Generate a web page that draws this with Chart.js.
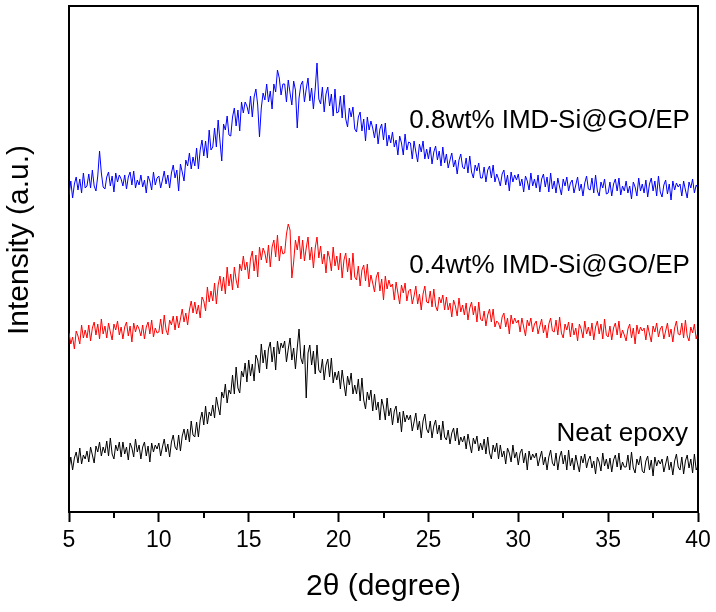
<!DOCTYPE html>
<html>
<head>
<meta charset="utf-8">
<script src="https://cdn.jsdelivr.net/npm/chart.js@4.4.0/dist/chart.umd.min.js"></script>
<style>
    html, body { margin: 0; padding: 0; background: #fff; }
    #wrap { width: 716px; height: 612px; }
</style>
</head>
<body>
<div id="wrap"><canvas id="xrdChart" width="716" height="612"></canvas></div>
<script>
// 2θ scan: 5° .. 40°, step 0.1°
const thetaStart = 5;
const thetaStep = 0.1;

const seriesNames = ['Neat epoxy', '0.4wt% IMD-Si@GO/EP', '0.8wt% IMD-Si@GO/EP'];

// Intensity (a.u.), curves stacked with offsets as in the figure
const neatEpoxy = [
    43,55,42,54,60,49,64,48,57,53, 61,50,65,57,49,66,60,70,56,65,
    59,71,56,74,58,53,67,61,70,55, 70,58,65,52,69,64,55,73,60,67,
    53,65,70,56,66,50,69,60,67,63, 69,56,65,73,60,68,55,70,77,65,
    62,77,61,76,83,72,83,70,91,77, 75,90,75,92,100,87,106,88,100,96,
    107,94,115,105,97,120,114,128,109,122, 118,137,118,145,124,119,141,135,149,130,
    152,136,148,131,157,152,139,168,149,162, 143,163,170,150,165,142,171,158,169,164,
    171,150,163,174,152,164,143,164,183,154, 148,167,114,159,167,147,161,138,167,142,
    139,153,132,147,153,135,154,129,140,132, 141,123,142,128,116,136,127,139,118,127,
    118,133,111,134,112,103,120,112,122,101, 118,102,110,92,113,105,92,114,96,104,
    87,101,106,89,100,80,101,90,97,92, 97,81,90,99,82,91,74,91,98,83,
    79,91,74,86,92,78,87,72,91,75, 72,82,68,79,84,71,84,67,75,70,
    76,63,78,68,59,74,68,76,61,69, 62,73,58,75,59,53,67,60,69,53,
    67,55,61,48,64,59,50,67,54,60, 47,59,63,49,59,42,61,52,58,54,
    59,46,54,61,47,55,42,55,62,49, 46,59,42,55,61,48,57,42,62,46,
    54,42,57,48,40,56,49,58,44,52, 56,44,51,38,55,50,41,59,46,53,
    43,54,40,52,57,45,59,42,50,45, 45,57,42,60,44,39,53,47,56,41,
    39,51,56,42,52,36,55,46,52,48, 53,40,48,56,42,50,37,51,58,45,
    42,55,38,51,57,44,53,39,58,42, 46
];

const go04 = [
    179,168,175,163,181,176,168,187,174,182, 174,187,171,184,190,177,188,173,193,178,
    186,174,189,180,172,188,182,191,177,185, 173,185,190,176,186,170,189,180,187,183,
    176,187,173,185,190,178,192,175,184,179, 180,193,178,197,182,177,192,187,196,182,
    196,184,193,203,190,199,187,202,211,199, 210,198,207,194,215,211,201,225,210,221,
    211,229,208,227,236,221,235,218,245,226, 238,222,245,232,224,248,241,256,242,250,
    233,253,261,241,257,235,265,252,264,259, 249,267,245,265,272,255,277,251,266,258,
    259,278,288,282,234,250,272,262,276,253, 272,251,264,275,252,265,244,264,275,254,
    266,248,258,239,261,254,241,265,246,256, 242,259,234,252,259,240,254,232,259,235,
    232,246,226,242,247,231,248,225,237,229, 220,235,240,221,233,212,236,223,232,225,
    228,212,230,219,208,227,219,229,211,221, 223,208,216,226,208,218,202,218,226,210,
    209,221,205,223,206,201,215,209,217,202, 215,202,209,195,212,206,196,214,200,207,
    197,209,192,204,210,197,206,190,210,193, 191,201,186,197,203,190,203,185,191,189,
    183,195,199,185,194,178,197,188,194,189, 192,180,194,185,176,192,186,194,180,188,
    191,178,186,193,179,187,174,188,194,181, 180,192,177,195,179,174,188,182,190,175,
    189,177,184,171,188,183,174,191,178,185, 176,189,172,185,191,178,188,173,193,177,
    175,186,172,184,189,177,191,174,182,177, 171,183,188,174,184,168,187,178,185,181,
    184,172,187,178,170,186,180,189,175,183, 186,173,181,189,175,183,170,184,191,178,
    177,189,174,192,176,171,185,179,188,173, 180
];

const go08 = [
    317,331,314,328,335,322,333,319,339,324, 326,338,324,342,326,321,336,361,339,325,
    323,335,340,326,336,320,339,330,337,333, 326,337,323,335,340,327,341,324,332,327,
    337,325,332,319,336,331,322,340,327,334, 336,324,332,341,328,337,324,339,347,334,
    342,321,348,340,331,352,346,359,343,355, 346,364,343,362,372,356,371,354,382,362,
    365,384,365,392,371,351,388,382,396,377, 376,395,404,386,402,381,410,399,410,406,
    398,416,395,415,423,407,375,404,419,412, 428,410,421,403,428,420,442,434,417,428,
    428,410,432,419,407,431,422,384,414,427, 431,410,423,434,411,424,403,423,449,413,
    408,425,400,418,425,406,418,396,423,399, 400,416,394,417,393,385,404,395,405,383,
    380,395,400,381,393,371,395,382,391,384, 374,388,368,383,388,372,389,366,377,369,
    380,365,372,357,376,369,357,378,362,370, 369,353,371,360,350,368,360,371,353,363,
    353,365,348,360,366,352,361,346,365,349, 358,344,352,359,345,352,338,352,358,345,
    343,354,339,356,340,334,347,341,349,334, 334,345,330,342,346,334,347,330,338,333,
    326,338,342,327,337,321,340,330,337,332, 338,326,333,320,336,331,322,339,326,333,
    324,337,320,333,338,325,335,320,339,323, 331,319,334,325,317,333,326,335,321,329,
    332,319,327,335,321,328,316,329,336,323, 322,334,319,337,321,316,330,324,333,318,
    319,330,316,328,333,321,334,317,326,321, 331,319,326,313,330,325,316,334,321,328,
    319,332,315,328,334,321,331,316,336,320, 315,327,332,318,328,312,331,322,329,325,
    328,316,331,322,314,330,324,333,319,327, 324
];

const xTicks = [5, 10, 15, 20, 25, 30, 35, 40];

const toPoints = arr => arr.map((v, i) => ({ x: +(thetaStart + i * thetaStep).toFixed(1), y: v }));

const fontFamily = 'Arial, "Liberation Sans", sans-serif';

// frame, minor ticks, y title and curve labels
const decorPlugin = {
    id: 'decor',
    afterDraw(chart) {
        const { ctx, chartArea } = chart;
        const xs = chart.scales.x;
        const ys = chart.scales.y;
        ctx.save();
        ctx.strokeStyle = '#000';
        ctx.lineWidth = 2;
        ctx.beginPath();
        ctx.moveTo(chartArea.left, chartArea.top);
        ctx.lineTo(chartArea.right, chartArea.top);
        ctx.lineTo(chartArea.right, chartArea.bottom);
        ctx.stroke();

        // minor ticks halfway between the major ones
        ctx.beginPath();
        for (let i = 0; i < xTicks.length - 1; i++) {
            const px = Math.round(xs.getPixelForValue((xTicks[i] + xTicks[i + 1]) / 2));
            ctx.moveTo(px, chartArea.bottom);
            ctx.lineTo(px, chartArea.bottom + 6);
        }
        ctx.stroke();

        ctx.fillStyle = '#000';
        ctx.font = '30px ' + fontFamily;
        ctx.textAlign = 'center';
        ctx.textBaseline = 'middle';
        ctx.translate(20, 240);
        ctx.rotate(-Math.PI / 2);
        ctx.fillText('Intensity (a.u.)', 0, 0);
        ctx.restore();

        ctx.save();
        ctx.fillStyle = '#000';
        ctx.font = '26px ' + fontFamily;
        ctx.textAlign = 'right';
        ctx.textBaseline = 'alphabetic';
        ctx.fillText(seriesNames[2], xs.getPixelForValue(39.55), ys.getPixelForValue(384));
        ctx.fillText(seriesNames[1], xs.getPixelForValue(39.55), ys.getPixelForValue(239));
        ctx.fillText(seriesNames[0], xs.getPixelForValue(39.45), ys.getPixelForValue(71));
        ctx.restore();
    }
};

new Chart(document.getElementById('xrdChart'), {
    type: 'line',
    data: {
        datasets: [
            { label: seriesNames[0], data: toPoints(neatEpoxy), borderColor: '#000000', borderWidth: 1, pointRadius: 0, tension: 0 },
            { label: seriesNames[1], data: toPoints(go04), borderColor: '#ff0000', borderWidth: 1, pointRadius: 0, tension: 0 },
            { label: seriesNames[2], data: toPoints(go08), borderColor: '#0000ff', borderWidth: 1, pointRadius: 0, tension: 0 }
        ]
    },
    options: {
        responsive: false,
        animation: false,
        layout: { padding: { top: 6, right: 18, left: 0, bottom: 0 } },
        plugins: {
            legend: { display: false },
            tooltip: { enabled: false }
        },
        scales: {
            x: {
                type: 'linear',
                min: 5,
                max: 40,
                afterBuildTicks: s => { s.ticks = xTicks.map(v => ({ value: v })); },
                afterFit: s => { s.height = 100; },
                ticks: { color: '#000', font: { family: fontFamily, size: 23 }, padding: 5, maxRotation: 0 },
                grid: { drawOnChartArea: false, drawTicks: true, tickLength: 10, tickColor: '#000', tickWidth: 2 },
                border: { display: true, color: '#000', width: 2 },
                title: { display: true, text: '2θ (degree)', color: '#000', font: { family: fontFamily, size: 30 }, padding: { top: 0, bottom: 7 } }
            },
            y: {
                min: 0,
                max: 506,
                afterFit: s => { s.width = 69; },
                ticks: { display: false },
                grid: { display: false },
                border: { display: true, color: '#000', width: 2 }
            }
        }
    },
    plugins: [decorPlugin]
});
</script>
</body>
</html>
